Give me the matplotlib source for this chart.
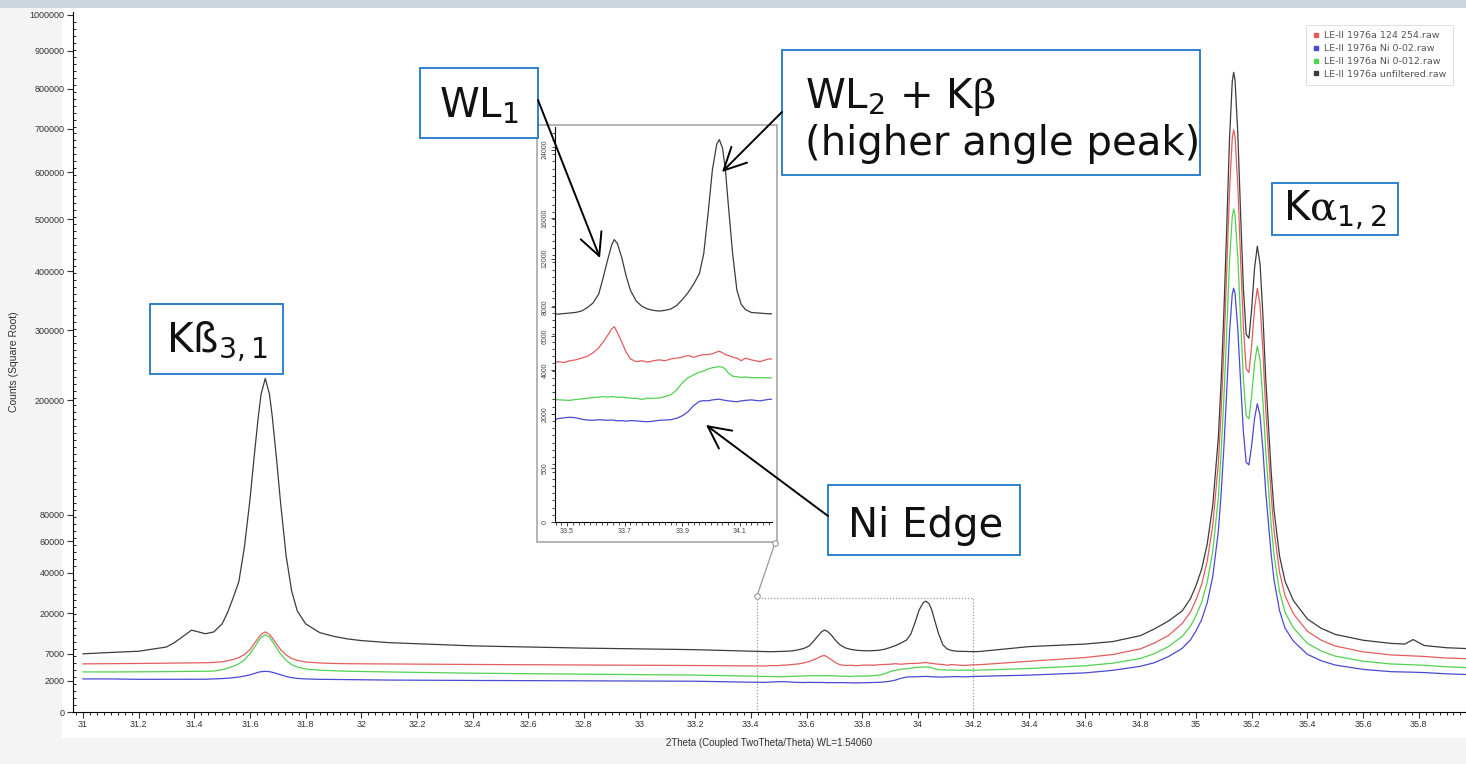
import numpy as np
import matplotlib
matplotlib.use("Agg")
import matplotlib.pyplot as plt
from matplotlib.patches import Rectangle, FancyArrowPatch
from matplotlib.lines import Line2D
from matplotlib.ticker import FixedLocator, MultipleLocator, FuncFormatter

plt.rcParams['mathtext.fontset'] = 'custom'
plt.rcParams['mathtext.rm'] = 'DejaVu Serif'
plt.rcParams['mathtext.sf'] = 'DejaVu Sans'
plt.rcParams['mathtext.it'] = 'DejaVu Sans:italic'
plt.rcParams['font.family'] = ['DejaVu Sans']

# ---------------- data (2theta in degrees, counts) ----------------
two_theta = [
    # 31.0 - 31.5
    31.00, 31.10, 31.20, 31.30, 31.33, 31.36, 31.39, 31.41, 31.44, 31.47,
    # K-beta 3,1 peak
    31.50, 31.52, 31.54, 31.56, 31.58, 31.60, 31.615, 31.63, 31.64, 31.655,
    31.67, 31.68, 31.695, 31.71, 31.73, 31.75, 31.77, 31.80, 31.85, 31.90,
    # background
    31.95, 32.0, 32.1, 32.4, 32.8, 33.2,
    # WL1 / WL2 + K-beta / Ni edge region
    33.45, 33.47, 33.49, 33.51, 33.53, 33.55, 33.57, 33.59, 33.61, 33.625,
    33.64, 33.655, 33.664, 33.675, 33.69, 33.705, 33.72, 33.74, 33.76, 33.78,
    33.80, 33.82, 33.84, 33.86, 33.88, 33.90, 33.92, 33.94, 33.96, 33.975,
    33.99, 34.005, 34.02, 34.029, 34.04, 34.05, 34.06, 34.075, 34.09, 34.105,
    34.12, 34.14, 34.17, 34.20, 34.22,
    # K-alpha 1,2 region
    34.4, 34.6, 34.7, 34.8, 34.85, 34.9, 34.95, 34.98, 35.0, 35.02,
    35.04, 35.06, 35.08, 35.09, 35.10, 35.11, 35.12, 35.13, 35.135, 35.14,
    35.15, 35.16, 35.17, 35.18, 35.19, 35.20, 35.21, 35.22, 35.23, 35.24,
    35.25, 35.26, 35.27, 35.28, 35.30, 35.32, 35.35, 35.40, 35.45, 35.50,
    35.60, 35.70, 35.75, 35.78, 35.82, 35.90, 36.0]

counts_unfiltered = [
    6970, 7300, 7600, 8700, 10000, 11800, 13800, 13300, 12600, 13200,
    16000, 20500, 27000, 35000, 56000, 93000, 134000, 180000, 208000, 229000,
    208000, 180000, 133000, 90000, 50000, 30000, 21000, 16000, 13000, 11800,
    11000, 10500, 9900, 9000, 8400, 8000,
    7500, 7480, 7520, 7560, 7600, 7700, 7950, 8300, 9000, 10300,
    11800, 13300, 13800, 13400, 12100, 10500, 9300, 8450, 8050, 7850,
    7750, 7700, 7750, 7850, 8100, 8550, 9100, 9800, 10700, 12500,
    16500, 21500, 24700, 25300, 24200, 21500, 17500, 12500, 9300, 8200,
    7800, 7600, 7550, 7500, 7520,
    8800, 9500, 10200, 12000, 14200, 17000, 21000, 26500, 33000, 42000,
    58000, 88000, 155000, 225000, 330000, 481100, 673200, 818200, 842200, 822400,
    687600, 510100, 369100, 293700, 287700, 335800, 404600, 446700, 412600, 325700,
    230800, 170000, 118000, 84000, 50000, 35000, 25500, 17800, 14400, 12400,
    10600, 9700, 9500, 10800, 9100, 8500, 8200]

counts_124_254 = [
    4770, 4800, 4850, 4900, 4930, 4950, 4970, 4980, 5000, 5050,
    5200, 5400, 5700, 6100, 6800, 8000, 9600, 11300, 12400, 13200,
    12400, 11300, 9600, 8000, 6700, 5900, 5500, 5150, 4950, 4850,
    4800, 4780, 4750, 4650, 4550, 4450,
    4350, 4450, 4400, 4500, 4550, 4650, 4750, 4950, 5250, 5600,
    6000, 6450, 6600, 6200, 5600, 5000, 4600, 4450, 4500, 4420,
    4500, 4550, 4500, 4600, 4650, 4700, 4800, 4700, 4800, 4850,
    4850, 4900, 5000, 5050, 4950, 4850, 4800, 4700, 4650, 4500,
    4650, 4550, 4450, 4600, 4600,
    5300, 6100, 6800, 8200, 9800, 12000, 16100, 20600, 26000, 33500,
    46900, 71800, 127400, 185600, 272700, 397970, 557420, 677770, 697690, 681250,
    569370, 422040, 305010, 242430, 237450, 277370, 334480, 369420, 341120, 268990,
    190220, 139800, 96500, 68400, 40100, 27700, 19800, 13400, 10600, 8950,
    7460, 6710, 6550, 6450, 6350, 6000, 5800]

counts_ni_0012 = [
    3310, 3300, 3320, 3350, 3370, 3390, 3400, 3410, 3420, 3450,
    3700, 3950, 4300, 4800, 5600, 7000, 8500, 10300, 11500, 12300,
    11500, 10300, 8500, 6900, 5500, 4600, 4150, 3800, 3600, 3500,
    3420, 3380, 3300, 3100, 2950, 2800,
    2600, 2580, 2570, 2560, 2600, 2620, 2650, 2680, 2700, 2720,
    2700, 2720, 2713, 2690, 2700, 2680, 2650, 2650, 2600, 2660,
    2640, 2660, 2720, 2800, 3000, 3350, 3600, 3750, 3880, 3950,
    4050, 4120, 4160, 4170, 4150, 4050, 3850, 3680, 3650, 3620,
    3640, 3600, 3610, 3590, 3600,
    3900, 4400, 4900, 5900, 7000, 8800, 11760, 15170, 19200, 24770,
    34700, 53300, 94800, 138500, 203600, 297020, 416120, 506020, 520900, 508630,
    425050, 315000, 227580, 180830, 177110, 206940, 249590, 275690, 254550, 200670,
    141840, 104100, 71800, 50800, 29700, 20400, 14500, 9700, 7650, 6430,
    5310, 4750, 4630, 4580, 4500, 4200, 4000]

counts_ni_002 = [
    2250, 2250, 2200, 2200, 2210, 2200, 2190, 2200, 2210, 2250,
    2300, 2350, 2420, 2520, 2650, 2850, 3050, 3250, 3350, 3400,
    3350, 3250, 3050, 2850, 2600, 2420, 2320, 2250, 2200, 2180,
    2150, 2130, 2100, 2050, 2000, 1950,
    1800, 1850, 1880, 1900, 1880, 1830, 1800, 1790, 1810, 1800,
    1790, 1800, 1790, 1770, 1780, 1760, 1780, 1770, 1750, 1740,
    1760, 1790, 1800, 1810, 1860, 1950, 2100, 2350, 2520, 2550,
    2540, 2580, 2600, 2612, 2580, 2560, 2540, 2520, 2500, 2540,
    2560, 2580, 2540, 2600, 2620,
    2800, 3150, 3570, 4300, 5000, 6300, 8320, 10740, 13600, 17560,
    24600, 37800, 67300, 98300, 144500, 210760, 295290, 359090, 369650, 360940,
    301620, 223520, 161480, 128310, 125670, 146830, 177100, 195630, 180620, 142390,
    100630, 73700, 50900, 36000, 21100, 14400, 10300, 6850, 5400, 4540,
    3740, 3350, 3300, 3260, 3200, 3000, 2850]

series_labels = ["LE-II 1976a 124 254.raw", "LE-II 1976a Ni 0-02.raw",
                 "LE-II 1976a Ni 0-012.raw", "LE-II 1976a unfiltered.raw"]
series_colors = ["#e35d5d", "#4a4ad4", "#52d152", "#3c3c3c"]

main_yticks = [0, 2000, 7000, 20000, 40000, 60000, 80000, 200000, 300000, 400000,
               500000, 600000, 700000, 800000, 900000, 1000000]
main_xticks = [31, 31.2, 31.4, 31.6, 31.8, 32, 32.2, 32.4, 32.6, 32.8, 33, 33.2, 33.4,
               33.6, 33.8, 34, 34.2, 34.4, 34.6, 34.8, 35, 35.2, 35.4, 35.6, 35.8]
inset_yticks = [0, 500, 2000, 4000, 6000, 8000, 12000, 16000, 24000]
inset_xticks = [33.5, 33.7, 33.9, 34.1]

series_values = [counts_124_254, counts_ni_002, counts_ni_0012, counts_unfiltered]

# ---------------- figure ----------------
W, H = 1466, 764
fig = plt.figure(figsize=(W / 100, H / 100), dpi=100, facecolor="#f4f4f4")


def fx(px):
    return px / W


def fy(py):
    return 1 - py / H


def frect(x0, y0, x1, y1):
    return [fx(x0), fy(y1), fx(x1) - fx(x0), fy(y0) - fy(y1)]


# background pieces
fig.add_artist(Rectangle((fx(62), fy(738)), fx(W) - fx(62), fy(8) - fy(738),
                         transform=fig.transFigure, facecolor="white", edgecolor="none", zorder=-5))
fig.add_artist(Rectangle((0, fy(8)), 1, fy(0) - fy(8), transform=fig.transFigure,
                         facecolor="#cdd6de", edgecolor="none", zorder=-5))


def fwd(v):
    return np.sqrt(np.clip(v, 0, None))


def inv(v):
    return np.square(v)


fmt_int = FuncFormatter(lambda v, p: "%d" % round(v))

ax = fig.add_axes(frect(73, 12, W, 712))
ax.set_facecolor("white")
for c, lab, ys in zip(series_colors, series_labels, series_values):
    ax.plot(two_theta, ys, color=c, lw=0.9, label=lab)
ax.set_yscale("function", functions=(fwd, inv))
ax.set_xlim(30.964, 35.970)
ax.set_ylim(0, 1008600)
ax.spines["top"].set_visible(False)
ax.spines["right"].set_visible(False)
ax.set_yticks(main_yticks)
ax.yaxis.set_major_formatter(fmt_int)
ax.yaxis.set_minor_locator(FixedLocator([(10 * n) ** 2 for n in range(1, 101)]))
ax.set_xticks(main_xticks)
ax.set_xticklabels([("%g" % t) for t in main_xticks])
ax.xaxis.set_minor_locator(MultipleLocator(0.025))
ax.tick_params(axis="both", which="major", labelsize=6.5, length=4, width=0.8,
               colors="#333333", pad=2)
ax.tick_params(axis="y", which="minor", direction="in", length=2.5, width=0.6)
ax.tick_params(axis="x", which="minor", direction="out", length=2.5, width=0.6)
for lbl in ax.get_xticklabels() + ax.get_yticklabels():
    lbl.set_family("Liberation Sans")
ax.set_xlabel("2Theta (Coupled TwoTheta/Theta) WL=1.54060", fontsize=7,
              family="Liberation Sans", color="#333333", labelpad=6)
ax.set_ylabel("Counts (Square Root)", fontsize=7.5, family="Liberation Sans",
              color="#333333", labelpad=8)

# zoom rectangle on main
ax.add_patch(Rectangle((33.422, 0), 34.198 - 33.422, 26900, fill=False,
                       edgecolor="#999999", lw=0.9, ls=(0, (1, 1.5)), zorder=4))

# legend
handles = [Line2D([], [], marker="s", ls="", color=c, markersize=3) for c in series_colors]
leg = ax.legend(handles, series_labels, loc="upper right",
                bbox_to_anchor=(fx(1458), fy(20)), bbox_transform=fig.transFigure,
                fontsize=6.8, frameon=True, fancybox=False, edgecolor="#d0d0d0",
                handlelength=0.6, handletextpad=0.6, labelspacing=0.4,
                borderpad=0.7, labelcolor="#555555")
leg.get_frame().set_linewidth(0.6)

# inset frame
fig.add_artist(Rectangle((fx(537), fy(542)), fx(777) - fx(537), fy(125) - fy(542),
                         transform=fig.transFigure, facecolor="white",
                         edgecolor="#a8a8a8", lw=1.2, zorder=2))

axi = fig.add_axes(frect(555, 127, 772, 522), zorder=3)
axi.set_facecolor("white")
for c, ys in zip(series_colors, series_values):
    axi.plot(two_theta, ys, color=c, lw=0.9)
axi.set_yscale("function", functions=(fwd, inv))
axi.set_xlim(33.458, 34.212)
axi.set_ylim(0, 27000)
axi.spines["top"].set_visible(False)
axi.spines["right"].set_visible(False)
axi.set_yticks(inset_yticks)
axi.yaxis.set_major_formatter(fmt_int)
axi.yaxis.set_minor_locator(FixedLocator([(3 * n) ** 2 for n in range(1, 56)]))
axi.set_xticks(inset_xticks)
axi.set_xticklabels([("%g" % t) for t in inset_xticks])
axi.xaxis.set_minor_locator(MultipleLocator(0.02))
axi.tick_params(axis="both", which="major", labelsize=5, length=3, width=0.7,
                colors="#444444", pad=1.5)
axi.tick_params(axis="both", which="minor", length=2, width=0.5)
for lbl in axi.get_yticklabels():
    lbl.set_rotation(90)
    lbl.set_va("center")
for lbl in axi.get_xticklabels() + axi.get_yticklabels():
    lbl.set_family("Liberation Sans")

# connector between zoom box and inset
fig.add_artist(Line2D([fx(757), fx(775)], [fy(596), fy(543)], transform=fig.transFigure,
                      color="#999999", lw=0.9, zorder=4))
fig.add_artist(Line2D([fx(757), fx(775)], [fy(596), fy(543)], transform=fig.transFigure,
                      color="#999999", ls="", marker="o", markersize=4,
                      markerfacecolor="white", markeredgewidth=0.8, zorder=4))

# annotation boxes
BOX_EDGE = "#1f78c8"


def box(x0, y0, x1, y1):
    fig.add_artist(Rectangle((fx(x0), fy(y1)), fx(x1) - fx(x0), fy(y0) - fy(y1),
                             transform=fig.transFigure, facecolor="white",
                             edgecolor=BOX_EDGE, lw=1.3, zorder=6))


def label(x, y, s, ha="left"):
    fig.text(fx(x), fy(y), s, fontsize=29, ha=ha, va="baseline", color="#111111",
             zorder=7)


box(420, 68, 538, 138)
label(479, 117, r"WL$_{\mathsf{1}}$", ha="center")

box(782, 50, 1200, 175)
label(805, 108, r"WL$_{\mathsf{2}}$ + K$\mathrm{\beta}$")
label(805, 155, "(higher angle peak)")

box(150, 304, 283, 374)
label(166, 352, r"Kß$_{\mathsf{3,1}}$")

box(1272, 183, 1398, 235)
label(1283, 220, r"K$\mathrm{\alpha}_{\mathsf{1,2}}$")

box(828, 485, 1020, 555)
label(848, 537, "Ni Edge")


def arrow(p0, p1):
    fig.add_artist(FancyArrowPatch((fx(p0[0]), fy(p0[1])), (fx(p1[0]), fy(p1[1])),
                                   transform=fig.transFigure,
                                   arrowstyle="->,head_length=0.8,head_width=0.4",
                                   mutation_scale=20, lw=1.4, color="black",
                                   shrinkA=0, shrinkB=0, zorder=8))


arrow((538, 100), (600, 258))
arrow((782, 112), (722, 172))
arrow((828, 516), (706, 425))

fig.savefig("out.png", dpi=100, facecolor=fig.get_facecolor())
